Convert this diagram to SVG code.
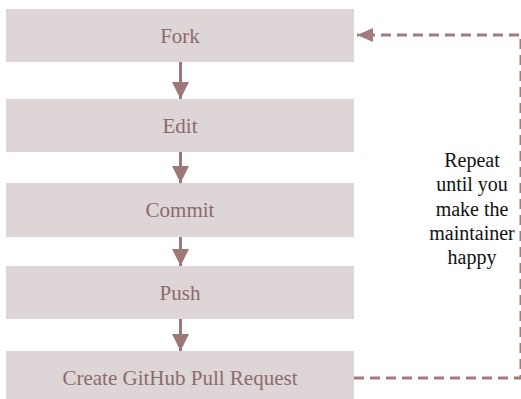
<svg xmlns="http://www.w3.org/2000/svg" width="521" height="399" viewBox="0 0 521 399">
  <style>
    .box { fill: #ddd5d6; }
    .lbl { font-size: 21px; fill: #8b6b6e; text-anchor: middle; }
    .note { font-size: 20px; fill: #111; text-anchor: middle; }
    .flow { stroke: #9e7878; stroke-width: 3; fill: none; }
    .loop { stroke: #a07c7e; stroke-width: 3; fill: none; stroke-dasharray: 10 6; }
  </style>
  <defs>
    <marker id="head" markerUnits="userSpaceOnUse" markerWidth="18" markerHeight="18" viewBox="0 0 18 18" refX="17" refY="9" orient="auto">
      <path d="M0,0.5 L17,9 L0,17.5 Z" fill="#9e7878"/>
    </marker>
    <marker id="headLoop" markerUnits="userSpaceOnUse" markerWidth="17" markerHeight="16" viewBox="0 0 17 16" refX="16" refY="8" orient="auto">
      <path d="M0,1 L16,8 L0,15 Z" fill="#a07c7e"/>
    </marker>
  </defs>

  <g font-family="'Liberation Serif', 'DejaVu Serif', serif">
    <g id="fork">
      <rect class="box" x="6" y="9" width="348" height="53"/>
      <text class="lbl" x="180" y="43">Fork</text>
    </g>
    <g id="edit">
      <rect class="box" x="6" y="99" width="348" height="53"/>
      <text class="lbl" x="180" y="133">Edit</text>
    </g>
    <g id="commit">
      <rect class="box" x="6" y="183" width="348" height="54"/>
      <text class="lbl" x="180" y="217">Commit</text>
    </g>
    <g id="push">
      <rect class="box" x="6" y="266" width="348" height="53"/>
      <text class="lbl" x="180" y="300">Push</text>
    </g>
    <g id="pull-request">
      <rect class="box" x="6" y="351" width="348" height="53"/>
      <text class="lbl" x="180" y="385">Create GitHub Pull Request</text>
    </g>

    <g id="note">
      <text class="note" x="472" y="167">Repeat</text>
      <text class="note" x="472" y="191">until you</text>
      <text class="note" x="472" y="216">make the</text>
      <text class="note" x="472" y="240">maintainer</text>
      <text class="note" x="472" y="264">happy</text>
    </g>
  </g>

  <g id="connectors">
    <line class="flow" x1="180.5" y1="62" x2="180.5" y2="99" marker-end="url(#head)"/>
    <line class="flow" x1="180.5" y1="152" x2="180.5" y2="183" marker-end="url(#head)"/>
    <line class="flow" x1="180.5" y1="237" x2="180.5" y2="266" marker-end="url(#head)"/>
    <line class="flow" x1="180.5" y1="319" x2="180.5" y2="351" marker-end="url(#head)"/>
    <path class="loop" d="M354,378 H521 V35 H357" marker-end="url(#headLoop)"/>
  </g>
</svg>
